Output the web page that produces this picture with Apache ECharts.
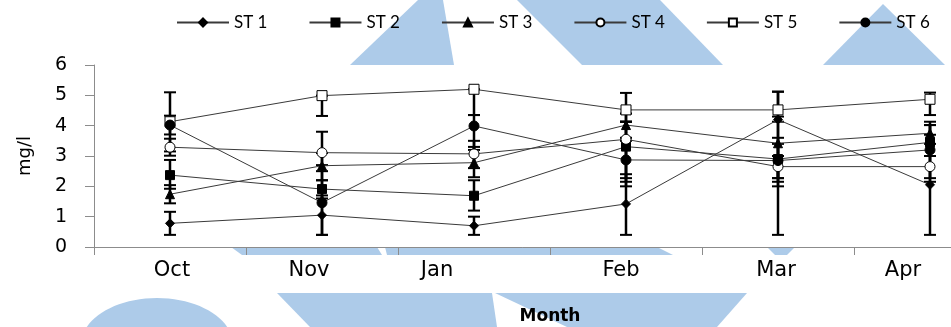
<!DOCTYPE html>
<html>
<head>
<meta charset="utf-8">
<script src="https://cdn.jsdelivr.net/npm/echarts@6/dist/echarts.min.js"></script>
<style>
  html, body { margin: 0; padding: 0; background: #fff; }
  #chart { width: 951px; height: 327px; }
</style>
</head>
<body>
<div id="chart"></div>
<script>
// Sampling months and station names
const months = ['Oct', 'Nov', 'Jan', 'Feb', 'Mar', 'Apr'];
const stations = ['ST 1', 'ST 2', 'ST 3', 'ST 4', 'ST 5', 'ST 6'];
const yTicks = [0, 1, 2, 3, 4, 5, 6];

// Monthly mean concentration (mg/l) per station
const st1 = [0.78, 1.05, 0.70, 1.42, 4.20, 2.05];
const st2 = [2.37, 1.91, 1.69, 3.31, 2.90, 3.45];
const st3 = [1.74, 2.68, 2.78, 4.02, 3.42, 3.75];
const st4 = [3.29, 3.11, 3.07, 3.55, 2.65, 2.65];
const st5 = [4.13, 4.99, 5.20, 4.52, 4.52, 4.87];
const st6 = [4.02, 1.46, 3.99, 2.87, 2.85, 3.20];

// Error bar extents [low, high] (mg/l) per station and month
const st1Err = [[0.40, 1.16], [0.40, 1.70], [0.40, 1.00], [0.40, 2.40], [0.40, 5.12], [0.40, 3.70]];
const st2Err = [[1.92, 2.87], [1.60, 2.20], [1.20, 2.20], [2.15, 4.13], [2.15, 3.60], [3.00, 4.02]];
const st3Err = [[1.44, 2.04], [2.20, 3.10], [2.30, 3.30], [3.60, 4.40], [2.27, 4.30], [3.40, 4.13]];
const st4Err = [[3.01, 3.57], [2.70, 3.80], [2.60, 3.50], [2.27, 4.13], [2.00, 3.00], [2.27, 3.00]];
const st5Err = [[3.15, 5.10], [4.32, 4.99], [4.35, 5.20], [4.13, 5.08], [4.13, 5.12], [4.35, 5.09]];
const st6Err = [[3.71, 4.33], [0.40, 2.50], [3.20, 4.35], [2.00, 3.50], [2.27, 3.40], [2.15, 4.02]];

const means = [st1, st2, st3, st4, st5, st6];
const errs = [st1Err, st2Err, st3Err, st4Err, st5Err, st6Err];

// Marker look per station
const markers = [
  { symbol: 'diamond', size: 9, fill: '#000' },
  { symbol: 'rect', size: 9, fill: '#000' },
  { symbol: 'triangle', size: 9, fill: '#000' },
  { symbol: 'circle', size: 10, fill: '#fff' },
  { symbol: 'rect', size: 10, fill: '#fff' },
  { symbol: 'circle', size: 10, fill: '#000' }
];

// Horizontal nudges of the month labels (px)
const labelNudge = [2, -13, -37, -5, -2, -27];

const labelFont = { fontFamily: 'DejaVu Sans', fontSize: 21, color: '#000' };
const rich = {};
labelNudge.forEach((d, i) => {
  rich['m' + i] = Object.assign({}, labelFont,
    { padding: d < 0 ? [0, -2 * d, 0, 0] : [0, 0, 0, 2 * d] });
});

function errorBar(params, api) {
  const c = api.value(0);
  const lo = api.coord([c, api.value(1)]);
  const hi = api.coord([c, api.value(2)]);
  const half = 6;
  return {
    type: 'group',
    children: [
      { type: 'line', shape: { x1: lo[0], y1: lo[1], x2: hi[0], y2: hi[1] },
        style: { stroke: '#000', lineWidth: 2.5 } },
      { type: 'line', shape: { x1: lo[0] - half, y1: lo[1], x2: lo[0] + half, y2: lo[1] },
        style: { stroke: '#000', lineWidth: 2 } },
      { type: 'line', shape: { x1: hi[0] - half, y1: hi[1], x2: hi[0] + half, y2: hi[1] },
        style: { stroke: '#000', lineWidth: 2 } }
    ]
  };
}

const series = [];
stations.forEach((name, s) => {
  series.push({
    name: name + ' SD',
    type: 'custom',
    renderItem: errorBar,
    encode: { x: 0, y: [1, 2] },
    data: errs[s].map((e, i) => [i, e[0], e[1]]),
    z: 2,
    silent: true
  });
});
stations.forEach((name, s) => {
  const m = markers[s];
  series.push({
    name: name,
    type: 'line',
    data: means[s],
    symbol: m.symbol,
    symbolSize: m.size,
    showAllSymbol: true,
    lineStyle: { color: '#3a3a3a', width: 1 },
    itemStyle: { color: m.fill, borderColor: '#000', borderWidth: 1 },
    z: 3,
    animation: false
  });
});

// Light blue decorative shapes in the page background
const blue = '#adcbe9';
const shapes = [
  [[350, 65], [418, 0], [443, 0], [454, 65]],
  [[517, 0], [660, 0], [723, 65], [582, 65]],
  [[883, 4], [945, 65], [823, 65]],
  [[231, 247], [377, 247], [382, 255], [242, 255]],
  [[385, 247], [657, 247], [673, 255], [387, 255]],
  [[767, 247], [795, 247], [787, 255], [775, 255]],
  [[277, 293], [492, 293], [497, 327], [310, 327]],
  [[495, 293], [747, 293], [717, 327], [567, 327]]
];
const graphic = shapes.map(p => ({
  type: 'polygon', shape: { points: p }, style: { fill: blue }, z: -10, silent: true
}));
graphic.push({
  type: 'ellipse', shape: { cx: 157, cy: 345, rx: 76, ry: 47 },
  style: { fill: blue }, z: -10, silent: true
});

const chart = echarts.init(document.getElementById('chart'), null, { renderer: 'canvas' });
chart.setOption({
  animation: false,
  backgroundColor: '#fff',
  graphic: graphic,
  legend: {
    data: stations,
    left: 176,
    top: 14,
    padding: 0,
    itemWidth: 52,
    itemHeight: 10,
    itemGap: 41,
    textStyle: { fontFamily: 'Lato', fontSize: 17, color: '#000' }
  },
  grid: { left: 94, width: 912, top: 65, bottom: 80, containLabel: false, outerBoundsMode: 'none' },
  xAxis: {
    type: 'category',
    data: months,
    boundaryGap: true,
    name: 'Month',
    nameLocation: 'middle',
    nameGap: 61,
    nameTextStyle: { fontFamily: 'DejaVu Sans', fontSize: 17, fontWeight: 'bold', color: '#000' },
    axisLine: { lineStyle: { color: '#8c8c8c', width: 1 } },
    axisTick: { show: true, length: 8, interval: 0, lineStyle: { color: '#8c8c8c' } },
    axisLabel: {
      interval: 0,
      margin: 13,
      hideOverlap: false,
      formatter: (v, i) => '{m' + i + '|' + v + '}',
      rich: rich
    },
    splitLine: { show: false }
  },
  yAxis: {
    type: 'value',
    min: yTicks[0],
    max: yTicks[yTicks.length - 1],
    interval: 1,
    name: 'mg/l',
    nameLocation: 'middle',
    nameGap: 60,
    nameRotate: 90,
    nameTextStyle: { fontFamily: 'DejaVu Sans', fontSize: 18, color: '#000' },
    axisLine: { show: true, lineStyle: { color: '#8c8c8c', width: 1 } },
    axisTick: { show: true, length: 9, lineStyle: { color: '#8c8c8c' } },
    axisLabel: { margin: 27, fontFamily: 'DejaVu Sans', fontSize: 19, color: '#000' },
    splitLine: { show: false }
  },
  series: series
});
</script>
</body>
</html>
